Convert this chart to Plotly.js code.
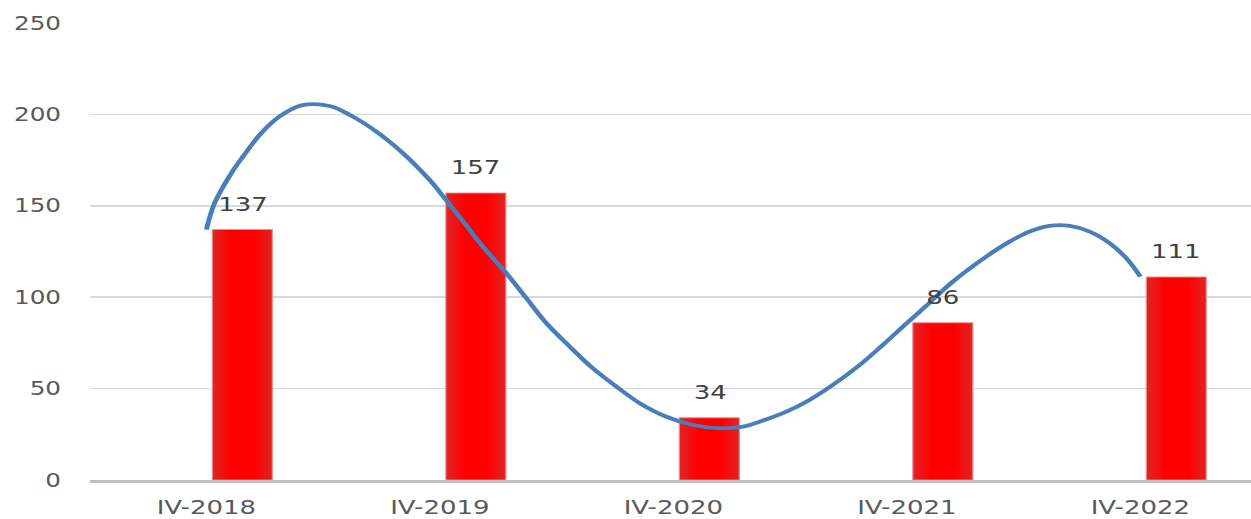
<!DOCTYPE html>
<html>
<head>
<meta charset="utf-8">
<script src="https://cdn.plot.ly/plotly-3.0.1.min.js"></script>
<style>
  html, body { margin: 0; padding: 0; background: #ffffff; overflow: hidden; }
  #chart { width: 963px; height: 519px; transform: scaleX(1.2991); transform-origin: 0 0; }
</style>
</head>
<body>
<div id="chart"></div>
<script>
// ---- data ----
const categories = ["IV-2018", "IV-2019", "IV-2020", "IV-2021", "IV-2022"];
const values = [137, 157, 34, 86, 111];

// trend curve (x in category index units, y in chart units)
const trendX = [0.000, 0.035, 0.107, 0.157, 0.235, 0.314, 0.407, 0.528, 0.613,
                0.728, 0.842, 0.956, 0.999, 1.085, 1.184, 1.285, 1.370, 1.456, 1.556,
                1.655, 1.756, 1.856, 1.970, 2.084, 2.198, 2.298, 2.369, 2.484, 2.583,
                2.683, 2.798, 2.897, 2.998, 3.083, 3.197, 3.340, 3.440, 3.526, 3.611,
                3.697, 3.783, 3.868, 3.940, 4.000];
const trendY = [137.0, 151.4, 167.9, 177.0, 189.8, 198.9, 204.9, 204.6, 199.8,
                190.6, 178.8, 164.2, 157.6, 143.8, 127.7, 113.1, 99.5, 85.8, 73.0,
                61.1, 51.1, 42.0, 34.6, 30.1, 28.3, 29.2, 31.9, 37.4, 43.8,
                52.0, 62.9, 73.9, 85.6, 95.3, 108.5, 122.2, 130.4, 135.9, 139.0,
                139.0, 135.9, 129.6, 121.3, 111.3];

const yTicks = [0, 50, 100, 150, 200, 250];

// ---- style constants ----
const BAR_OFFSET = 0.0255;
const BAR_WIDTH = 0.257;
const FONT = "DejaVu Sans, Verdana, sans-serif";

const idx = categories.map((c, i) => i);

const bars = {
  type: "bar",
  x: idx,
  y: values,
  width: idx.map(() => BAR_WIDTH),
  offset: idx.map(() => BAR_OFFSET),
  marker: { color: "#FF0000", line: { color: "rgba(238,140,140,0.9)", width: 1 } },
  hoverinfo: "skip",
  showlegend: false
};

const trend = {
  type: "scatter",
  mode: "lines",
  x: trendX,
  y: trendY,
  line: { color: "#4A7EBB", width: 3.8, shape: "spline", smoothing: 1 },
  hoverinfo: "skip",
  showlegend: false
};

const annotations = values.map((v, i) => ({
  x: i + BAR_OFFSET + BAR_WIDTH / 2,
  y: v,
  text: String(v),
  showarrow: false,
  yanchor: "bottom",
  xanchor: "center",
  yshift: 12,
  font: { family: FONT, size: 20, color: "#404040" }
}));

const layout = {
  width: 963,
  height: 519,
  margin: { l: 69, r: 0, t: 23, b: 39, pad: 0 },
  paper_bgcolor: "#ffffff",
  plot_bgcolor: "#ffffff",
  showlegend: false,
  xaxis: {
    range: [-0.5, 4.474],
    tickmode: "array",
    tickvals: idx,
    ticktext: categories,
    showgrid: false,
    zeroline: false,
    showline: true,
    linecolor: "#BFBFBF",
    linewidth: 2.5,
    ticks: "",
    ticklabelstandoff: 8,
    tickfont: { family: FONT, size: 20, color: "#595959" },
    fixedrange: true,
    automargin: false
  },
  yaxis: {
    range: [0, 250],
    tickmode: "array",
    tickvals: yTicks,
    ticktext: yTicks.map(String),
    showgrid: true,
    gridcolor: "#D9D9D9",
    gridwidth: 1.5,
    zeroline: false,
    showline: false,
    ticks: "",
    ticklabelstandoff: 21,
    tickfont: { family: FONT, size: 19, color: "#595959" },
    fixedrange: true,
    automargin: false
  },
  annotations: annotations
};

Plotly.newPlot("chart", [bars, trend], layout, { displayModeBar: false, staticPlot: true }).then(gd => {
  // horizontal shading of the bars, like the reference
  const svg = gd.querySelector("svg.main-svg");
  const ns = "http://www.w3.org/2000/svg";
  let defs = svg.querySelector("defs");
  if (!defs) { defs = document.createElementNS(ns, "defs"); svg.insertBefore(defs, svg.firstChild); }
  const grad = document.createElementNS(ns, "linearGradient");
  grad.setAttribute("id", "barGrad");
  grad.setAttribute("x1", "0"); grad.setAttribute("x2", "1");
  grad.setAttribute("y1", "0"); grad.setAttribute("y2", "0");
  [["0", "#DE2626"], ["0.3", "#FF0000"], ["0.7", "#FF0000"], ["1", "#E02424"]].forEach(([o, c]) => {
    const s = document.createElementNS(ns, "stop");
    s.setAttribute("offset", o); s.setAttribute("stop-color", c);
    grad.appendChild(s);
  });
  defs.appendChild(grad);
  gd.querySelectorAll(".trace.bars .point path").forEach(p => { p.style.fill = "url(#barGrad)"; });
});
</script>
</body>
</html>
